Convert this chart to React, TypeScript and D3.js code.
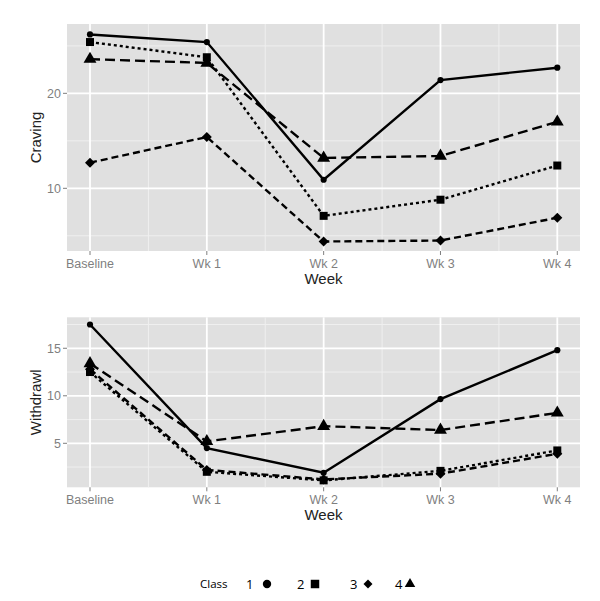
import React from "react";
import * as d3 from "d3";

const weeks = ["Baseline", "Wk 1", "Wk 2", "Wk 3", "Wk 4"];
const classes = ["1", "2", "3", "4"];

const craving1 = [26.2, 25.4, 10.9, 21.4, 22.7];
const craving2 = [25.4, 23.8, 7.1, 8.8, 12.4];
const craving3 = [12.7, 15.4, 4.4, 4.5, 6.9];
const craving4 = [23.6, 23.2, 13.2, 13.4, 17.0];

const withdrawl1 = [17.5, 4.5, 1.9, 9.65, 14.8];
const withdrawl2 = [12.5, 2.0, 1.1, 2.1, 4.25];
const withdrawl3 = [12.8, 2.2, 1.2, 1.8, 3.9];
const withdrawl4 = [13.4, 5.2, 6.8, 6.4, 8.2];

const cravingTicks = [10, 20];
const cravingMinor = [5, 15, 25];
const withdrawlTicks = [5, 10, 15];
const withdrawlMinor = [2.5, 7.5, 12.5, 17.5];

const dashes = [null, "3,3", "7,4", "10,5"];
const shapes = [d3.symbolCircle, d3.symbolSquare, d3.symbolSquare, d3.symbolTriangle];
const rotations = [0, 0, 45, 0];
const sizes = [30, 64, 50, 72];

const tickFont = "Liberation Sans, Arial, sans-serif";

function Panel({ top, bottom, domain, ticks, minor, series, title }: any) {
  const left = 67, right = 580;
  const x = d3.scalePoint<string>().domain(weeks).range([90, 557.3]);
  const y = d3.scaleLinear().domain(domain).range([bottom, top]);
  const step = x.step();
  const line = d3.line<number>().x((_, i) => x(weeks[i])!).y((d) => y(d));
  return (
    <g>
      <rect x={left} y={top} width={right - left} height={bottom - top} fill="#e0e0e0" />
      {minor.map((v: number) => (
        <line key={"my" + v} x1={left} x2={right} y1={y(v)} y2={y(v)} stroke="#efefef" strokeWidth={1} />
      ))}
      {weeks.slice(0, -1).map((w, i) => (
        <line key={"mx" + i} x1={x(w)! + step / 2} x2={x(w)! + step / 2} y1={top} y2={bottom} stroke="#efefef" strokeWidth={1} />
      ))}
      {ticks.map((v: number) => (
        <line key={"gy" + v} x1={left} x2={right} y1={y(v)} y2={y(v)} stroke="#ffffff" strokeWidth={1.8} />
      ))}
      {weeks.map((w) => (
        <line key={"gx" + w} x1={x(w)} x2={x(w)} y1={top} y2={bottom} stroke="#ffffff" strokeWidth={1.8} />
      ))}
      {series.map((s: number[], k: number) => (
        <path key={"l" + k} d={line(s)!} fill="none" stroke="#000" strokeWidth={2.4}
          strokeDasharray={dashes[k] || undefined} />
      ))}
      {series.map((s: number[], k: number) =>
        s.map((v, i) => (
          <path key={"p" + k + "-" + i} d={d3.symbol().type(shapes[k]).size(sizes[k])()!}
            transform={`translate(${x(weeks[i])},${y(v)}) rotate(${rotations[k]})`} fill="#000" />
        ))
      )}
      {ticks.map((v: number) => (
        <g key={"ty" + v}>
          <line x1={left - 4} x2={left} y1={y(v)} y2={y(v)} stroke="#7f7f7f" />
          <text x={left - 6} y={y(v)} dy="0.35em" textAnchor="end" fontSize={12.5} fill="#7f7f7f" fontFamily={tickFont}>{v}</text>
        </g>
      ))}
      {weeks.map((w) => (
        <g key={"tx" + w}>
          <line x1={x(w)} x2={x(w)} y1={bottom} y2={bottom + 4} stroke="#7f7f7f" />
          <text x={x(w)} y={bottom + 17} textAnchor="middle" fontSize={12.5} fill="#7f7f7f" fontFamily={tickFont}>{w}</text>
        </g>
      ))}
      <text x={(left + right) / 2} y={bottom + 33} textAnchor="middle" fontSize={15} fill="#222" fontFamily={tickFont}>Week</text>
      <text transform={`translate(${41},${(top + bottom) / 2}) rotate(-90)`} textAnchor="middle" fontSize={15} fill="#222" fontFamily={tickFont}>{title}</text>
    </g>
  );
}

export default function App() {
  const legendFont = "Open Sans, DejaVu Sans, sans-serif";
  const legendX = [246, 297, 350, 395];
  const legendSym = [267, 315, 368, 410];
  return (
    <svg width={600} height={601} style={{ position: "absolute", left: 0, top: 0, background: "#fff" }}>
      <rect width={600} height={601} fill="#fff" />
      <Panel top={24} bottom={251} domain={[3.4, 27.3]} ticks={cravingTicks} minor={cravingMinor}
        series={[craving1, craving2, craving3, craving4]} title="Craving" />
      <Panel top={317.3} bottom={487.3} domain={[0.37, 18.26]} ticks={withdrawlTicks} minor={withdrawlMinor}
        series={[withdrawl1, withdrawl2, withdrawl3, withdrawl4]} title="Withdrawl" />
      <text x={200} y={588} fontSize={11.5} fill="#000" fontFamily={legendFont}>Class</text>
      {classes.map((c, k) => (
        <g key={"lg" + c}>
          <text x={legendX[k]} y={589} fontSize={13} fill="#000" fontFamily={legendFont}>{c}</text>
          <path d={d3.symbol().type(shapes[k]).size([55, 72, 40, 48][k])()!}
            transform={`translate(${legendSym[k]},${584}) rotate(${rotations[k]})`} fill="#000" />
        </g>
      ))}
    </svg>
  );
}
